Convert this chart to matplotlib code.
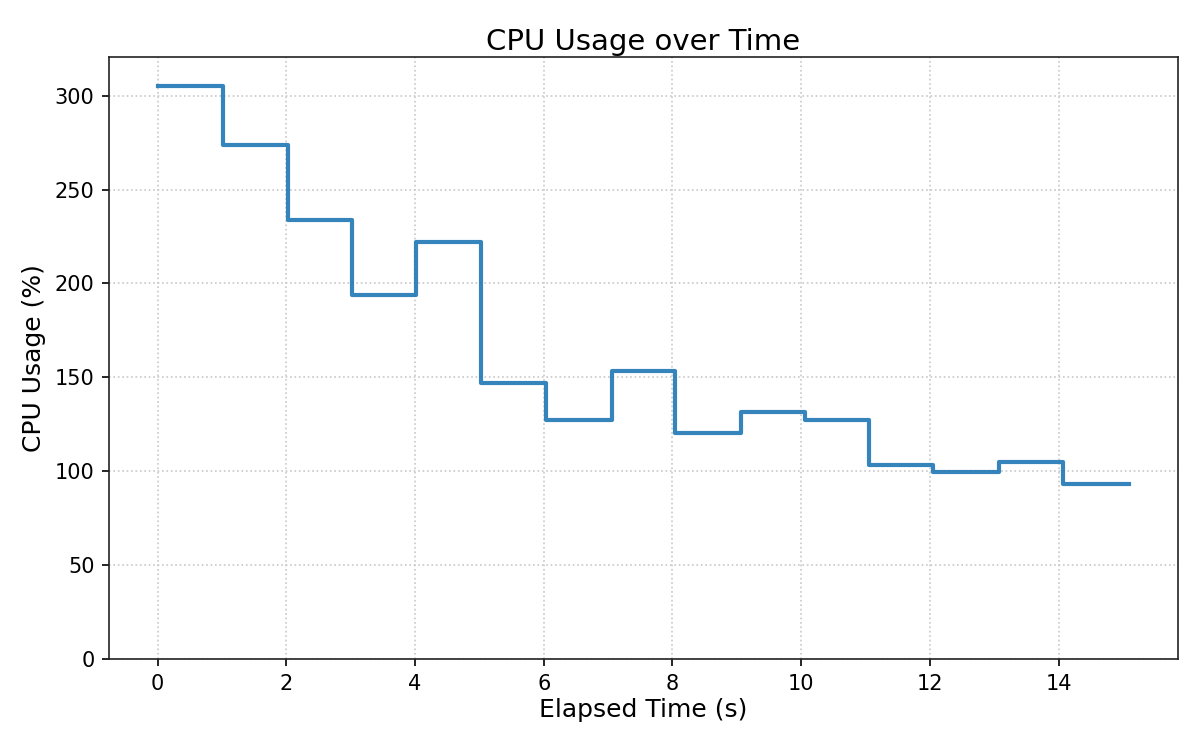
import matplotlib

matplotlib.use("Agg")
import matplotlib.pyplot as plt

# elapsed time of each sample (s) and CPU usage (%)
elapsed_s = [0.0, 1.02, 2.02, 3.02, 4.02, 5.02, 6.04, 7.06, 8.04, 9.06,
             10.06, 11.06, 12.05, 13.07, 14.06, 15.1]
cpu_pct = [305.3, 273.7, 234.0, 194.0, 222.3, 147.2, 127.3, 153.6, 120.5,
           131.7, 127.5, 103.5, 99.6, 104.9, 93.2, 93.2]


def main() -> None:
    fig, ax = plt.subplots(figsize=(8, 5), dpi=150)
    ax.step(elapsed_s, cpu_pct, where="post", color="#1f77b4", alpha=0.9, linewidth=2.0)
    ax.set_title("CPU Usage over Time", fontsize=14, pad=3.5)
    ax.set_xlabel("Elapsed Time (s)", fontsize=12, labelpad=2)
    ax.set_ylabel("CPU Usage (%)", fontsize=12)
    ax.set_ylim(0, max(cpu_pct) * 1.05)
    ax.grid(True, linestyle=":", color="#c8c8c8", linewidth=0.8)
    ax.set_axisbelow(True)
    for spine in ax.spines.values():
        spine.set_color("#222222")
    fig.subplots_adjust(left=0.0908, right=0.9817, top=0.924, bottom=0.1213)
    fig.savefig("out.png", dpi=150)


if __name__ == "__main__":
    main()
